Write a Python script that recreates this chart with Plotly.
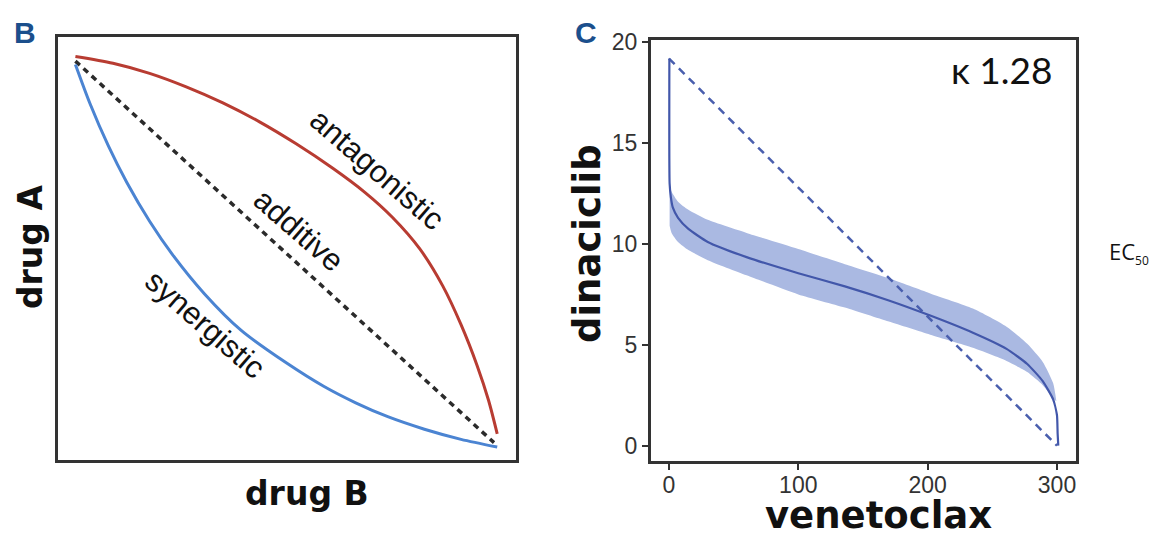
import plotly.graph_objects as go

W, H = 1149, 533

# ---------------- Panel B (schematic isobologram) ----------------
antag_x = [3.8, 12, 20, 28, 36, 44, 52, 60, 67, 73, 79, 84, 88, 91.5, 94, 95.9]
antag_y = [95.5, 93.9, 91.5, 88.3, 84.5, 80.0, 74.8, 69.0, 63.3, 57.4, 49.9, 41.15, 31.95, 22.3, 14.05, 6.1]
syn_x = [3.8, 7, 11, 15, 20, 25, 32, 40, 50, 58, 65, 72, 80, 88, 95.9]
syn_y = [93.6, 84.3, 74.3, 65.7, 56.45, 48.55, 39.24, 30.6, 22.8, 17.36, 13.44, 10.15, 7.19, 4.79, 2.97]
add_x = [3.8, 95.2]
add_y = [94.4, 4.0]

# ---------------- Panel C (venetoclax / dinaciclib) ----------------
ven_line = [0.3, 0.5, 1.5, 3, 7, 15, 30, 60, 100, 136, 170, 202, 235, 261, 277, 289, 297, 300, 300.5, 301]
din_line = [19.2, 13.0, 12.3, 11.8, 11.3, 10.75, 10.1, 9.35, 8.55, 7.9, 7.2, 6.45, 5.6, 4.8, 4.05, 3.2, 2.3, 1.5, 0.6, 0.0]
ven_band = [0.5, 2, 7, 15, 30, 60, 100, 136, 170, 202, 235, 261, 277, 289, 297, 299.5]
din_upper = [13.0, 12.6, 12.1, 11.7, 11.2, 10.55, 9.75, 9.0, 8.3, 7.55, 6.8, 5.9, 5.05, 4.15, 3.1, 2.2]
din_lower = [10.9, 10.55, 10.1, 9.7, 9.2, 8.45, 7.5, 6.85, 6.15, 5.5, 4.85, 4.2, 3.65, 3.0, 2.35, 2.2]
additive_ven = [0, 300]
additive_din = [19.2, 0]
x_ticks = [0, 100, 200, 300]
y_ticks = [0, 5, 10, 15, 20]


def px_x(p):
    return p / W


def px_y(p):
    return 1 - p / H


fig = go.Figure()

# Panel B traces
fig.add_trace(go.Scatter(x=add_x, y=add_y, mode="lines", xaxis="x", yaxis="y",
                         line=dict(color="#2b2b2b", width=3.5, dash="6px,5px"), hoverinfo="skip"))
fig.add_trace(go.Scatter(x=antag_x, y=antag_y, mode="lines", xaxis="x", yaxis="y",
                         line=dict(color="#b83c32", width=3, shape="spline", smoothing=0.8), hoverinfo="skip"))
fig.add_trace(go.Scatter(x=syn_x, y=syn_y, mode="lines", xaxis="x", yaxis="y",
                         line=dict(color="#4b84d2", width=3, shape="spline", smoothing=0.8), hoverinfo="skip"))

# Panel C traces
fig.add_trace(go.Scatter(x=ven_band, y=din_upper, mode="lines", xaxis="x2", yaxis="y2",
                         line=dict(width=0, color="rgba(0,0,0,0)", shape="spline", smoothing=0.6), hoverinfo="skip"))
fig.add_trace(go.Scatter(x=ven_band, y=din_lower, mode="lines", xaxis="x2", yaxis="y2",
                         fill="tonexty", fillcolor="#aab9e2",
                         line=dict(width=0, color="rgba(0,0,0,0)", shape="spline", smoothing=0.6), hoverinfo="skip"))
fig.add_trace(go.Scatter(x=additive_ven, y=additive_din, mode="lines", xaxis="x2", yaxis="y2",
                         line=dict(color="#4a5fae", width=2.5, dash="8px,6px"), hoverinfo="skip"))
fig.add_trace(go.Scatter(x=ven_line, y=din_line, mode="lines", xaxis="x2", yaxis="y2",
                         line=dict(color="#4257aa", width=2.2, shape="spline", smoothing=0.5), hoverinfo="skip"))

frame = "#333333"
fig.update_layout(
    width=W, height=H,
    margin=dict(l=0, r=0, t=0, b=0),
    paper_bgcolor="white", plot_bgcolor="white",
    showlegend=False,
    font=dict(family="Liberation Sans, Arial, sans-serif", color="#333333"),
    xaxis=dict(domain=[px_x(58), px_x(516)], range=[0, 100], showgrid=False, zeroline=False,
               showticklabels=False, ticks="", showline=True, mirror=True,
               linecolor=frame, linewidth=3, anchor="y"),
    yaxis=dict(domain=[px_y(458), px_y(27)], range=[0, 100], showgrid=False, zeroline=False,
               showticklabels=False, ticks="", showline=True, mirror=True,
               linecolor=frame, linewidth=3, anchor="x"),
    xaxis2=dict(domain=[px_x(651), px_x(1076)], range=[-13.9, 314.7], showgrid=False, zeroline=False,
                tickvals=x_ticks, ticktext=[str(v) for v in x_ticks], ticks="outside", ticklen=6,
                tickwidth=2, tickcolor=frame, ticklabelstandoff=-4,
                tickfont=dict(size=23, color="#333333", family="Liberation Sans, Arial"),
                showline=True, mirror=True, linecolor=frame, linewidth=3, anchor="y2"),
    yaxis2=dict(domain=[px_y(459), px_y(30)], range=[-0.74, 20.1], showgrid=False, zeroline=False,
                tickvals=y_ticks, ticktext=[str(v) for v in y_ticks], ticks="outside", ticklen=6,
                tickwidth=2, tickcolor=frame,
                tickfont=dict(size=23, color="#333333", family="Liberation Sans, Arial"),
                showline=True, mirror=True, linecolor=frame, linewidth=3, anchor="x2"),
)

ann = []


def add_ann(text, x, y, font, xref="paper", yref="paper", angle=0, xanchor="center", yanchor="middle"):
    ann.append(dict(text=text, x=x, y=y, xref=xref, yref=yref, textangle=angle,
                    xanchor=xanchor, yanchor=yanchor, showarrow=False, font=font))


letter_font = dict(size=30, color="#1b4f8c", family="Liberation Sans, Arial")
add_ann("<b>B</b>", px_x(25), px_y(22), letter_font)
add_ann("<b>C</b>", px_x(586), px_y(22), letter_font)

lab_font = dict(size=31, color="#111111", family="Liberation Sans, Arial")
add_ann("antagonistic", 69.6, 68.6, lab_font, xref="x", yref="y", angle=41)
add_ann("additive", 52.6, 54.2, lab_font, xref="x", yref="y", angle=41)
add_ann("synergistic", 32.2, 32.0, lab_font, xref="x", yref="y", angle=41)

title_font = dict(size=33, color="#111111", family="DejaVu Sans")
add_ann("<b>drug B</b>", px_x(307), px_y(493), title_font)
add_ann("<b>drug A</b>", px_x(30), px_y(241), title_font, angle=-90)

big_font = dict(size=37, color="#111111", family="DejaVu Sans")
add_ann("<b>venetoclax</b>", px_x(878), px_y(515), big_font)
add_ann("<b>dinaciclib</b>", px_x(587), px_y(238), big_font, angle=-90)

add_ann("κ 1.28", px_x(1054), px_y(60), dict(size=37, color="#111111", family="Lato, Open Sans"),
        xanchor="right")
add_ann("EC<sub><span style='font-size:12px'>50</span></sub>", px_x(1107), px_y(247),
        dict(size=22, color="#111111", family="Open Sans, Noto Sans"), xanchor="left")
fig.update_layout(annotations=ann)

fig.write_html("out.html", config={"displayModeBar": False},
               post_script="document.body.style.margin='0px';document.body.style.overflow='hidden';")
